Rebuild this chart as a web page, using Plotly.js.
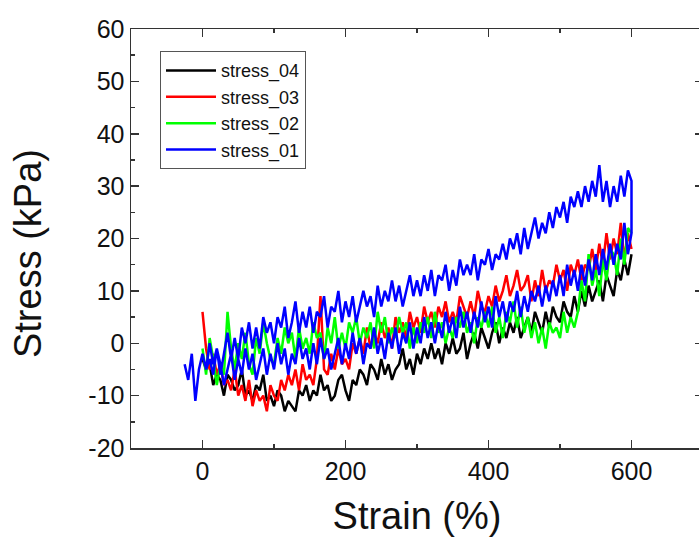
<!DOCTYPE html>
<html>
<head>
<meta charset="utf-8">
<script src="https://cdn.plot.ly/plotly-3.0.1.min.js"></script>
<style>
  html, body { margin: 0; padding: 0; background: #fff; overflow: hidden; }
  #chart { width: 710px; height: 542px; }
</style>
</head>
<body>
<div id="chart"></div>
<script>
// Strain grid (%)
const strain = [0,5,10,15,20,25,30,35,40,45,50,55,60,65,70,75,80,85,90,95,
  100,105,110,115,120,125,130,135,140,145,150,155,160,165,170,175,180,185,190,195,
  200,205,210,215,220,225,230,235,240,245,250,255,260,265,270,275,280,285,290,295,
  300,305,310,315,320,325,330,335,340,345,350,355,360,365,370,375,380,385,390,395,
  400,405,410,415,420,425,430,435,440,445,450,455,460,465,470,475,480,485,490,495,
  500,505,510,515,520,525,530,535,540,545,550,555,560,565,570,575,580,585,590,595,600];
const strainPre01 = [-25,-20,-15,-10,-5];

// Stress (kPa) series
const stress04 = [-3,-5,-4,-8,-6, -7,-10,-6,-7,-9, -8,-5,-10,-9,-11, -8,-9,-6,-11,-10,
  -12,-9,-10,-13,-11, -12,-13,-9,-10,-8, -11,-9,-10,-6,-9, -8,-11,-10,-7,-6,
  -9,-11,-7,-8,-5, -6,-8,-4,-5,-7, -3,-6,-4,-7,-5, -4,-1,-5,-3,-6,
  -2,-4,-1,-3,0, -3,-1,-4,0,-2, 1,-2,-1,2,-3, 0,2,-1,3,1,
  -1,2,4,0,3, 1,4,2,5,1, 3,5,2,6,4, 2,6,3,7,5,
  4,8,6,5,9, 6,10,7,11,8, 10,12,8,13,11, 9,14,12,16,13, 17];

const stress03 = [6,-1,-5,-2,-6, -4,-8,-7,-9,-5, -10,-8,-11,-7,-12, -9,-11,-10,-13,-8,
  -10,-11,-7,-9,-6, -8,-5,-9,-4,-7, -6,-8,-3,9,-5, -6,-2,-5,-1,-4,
  -3,-5,0,-2,1, -2,3,-1,2,0, 4,1,3,-1,5, 2,4,1,6,3,
  5,2,7,4,6, 3,7,5,8,4, 6,4,9,7,5, 8,5,10,7,6,
  9,7,11,8,10, 13,9,11,14,10, 11,13,8,12,9, 14,10,12,11,15,
  12,14,10,15,13, 16,12,15,14,18, 14,19,15,21,16, 20,17,23,16,21, 18];

const stress02 = [-1,-6,1,-3,-8, -4,-6,6,-1,-5, 0,-3,2,-4,-6, 1,-2,4,0,-3,
  -4,1,-2,3,0, 2,-3,3,-1,1, -2,4,1,2,-3, 3,0,5,-1,2,
  -1,4,2,5,0, 3,1,4,-1,6, 2,5,0,3,1, 5,2,4,-1,3,
  0,4,2,5,1, 6,2,4,0,3, 1,5,3,6,2, 4,0,5,3,6,
  3,7,2,5,1, 6,4,8,3,7, 2,5,1,4,0, 3,-1,4,2,3,
  1,6,2,5,3, 6,12,8,17,11, 14,9,16,12,18, 17,13,20,15,22, 21];

// stress_01: loading branch (from -25 % to 600 %)
const stress01Load = [-4,-7,-2,-11,-5,
  -2,-5,0,-4,-1, -6,-2,2,-3,1, -3,3,0,4,-1, 3,-1,5,2,4,
  0,5,3,7,1, 4,8,2,6,3, 7,2,6,5,9, 3,7,6,10,4,
  8,5,9,4,7, 10,7,9,5,11, 7,10,8,12,8, 11,7,10,13,9,
  12,9,13,10,14, 9,13,12,15,10, 14,11,16,13,15, 13,17,12,16,15,
  18,14,17,16,19, 16,20,18,21,17, 22,18,21,24,20, 23,21,25,22,26,
  24,27,23,28,26, 29,26,30,27,31, 28,34,27,31,26, 30,27,32,28,33, 31];
// stress_01: unloading branch (from 600 % back to 0 %)
const stress01Unload = [21,17,23,16,19, 15,19,14,18,13, 17,12,16,11,15, 10,14,11,15,9,
  13,9,12,8,11, 7,11,8,10,6, 9,5,10,6,8, 4,8,5,9,3,
  7,4,8,3,6, 2,6,3,7,1, 5,2,6,1,4, 0,4,1,5,0,
  3,-1,4,0,2, -2,3,-1,2,-3, 1,-2,3,-1,0, -4,1,-2,2,-3,
  0,-4,1,-2,-5, -1,-3,1,-4,0, -5,-1,-3,1,-4, -2,-6,-1,-4,0,
  -5,-2,-6,-1,-4, -7,-2,-5,-1,-6, -3,-7,-2,-5,-8, -4,-1,-6,-3,-5, -2];

const seriesNames = ['stress_04','stress_03','stress_02','stress_01'];
const seriesColors = ['#000000','#ff0000','#00ff00','#0000ff'];

const yTickVals = [-20,-10,0,10,20,30,40,50,60];
const yTickText = ['-20','-10','0','10','20','30','40','50','60'];
const xTickVals = [0,200,400,600];
const xTickText = ['0','200','400','600'];

const strainDown = strain.slice().reverse();
const xs = [strain, strain, strain, strainPre01.concat(strain, strainDown)];
const ys = [stress04, stress03, stress02, stress01Load.concat(stress01Unload)];

const traces = seriesNames.map((n, i) => ({
  type: 'scatter', mode: 'lines', name: n,
  x: xs[i], y: ys[i],
  line: {color: seriesColors[i], width: 2.5}
}));

const axisBase = {
  showgrid: false, zeroline: false,
  showline: true, linecolor: '#333', linewidth: 1.5,
  mirror: 'ticks', ticks: 'inside', ticklen: 8, tickwidth: 1.5, tickcolor: '#333',
  tickfont: {family: 'Liberation Sans, Arial, sans-serif', size: 25, color: '#111'}
};

const layout = {
  width: 710, height: 542,
  margin: {l: 131, r: 7, t: 29, b: 94},
  paper_bgcolor: '#fff', plot_bgcolor: '#fff',
  font: {family: 'Liberation Sans, Arial, sans-serif', color: '#111'},
  showlegend: true,
  xaxis: Object.assign({}, axisBase, {
    range: [-100, 700], tickmode: 'array', tickvals: xTickVals, ticktext: xTickText,
    minor: {tickmode: 'array', tickvals: [-100, 100, 300, 500], ticks: 'inside', ticklen: 4, tickwidth: 1.5, tickcolor: '#333'},
    title: {text: 'Strain (%)', font: {size: 38, color: '#111'}, standoff: 19}
  }),
  yaxis: Object.assign({}, axisBase, {
    range: [-20, 60], tickmode: 'array', tickvals: yTickVals, ticktext: yTickText,
    minor: {tickmode: 'array', tickvals: [-15,-5,5,15,25,35,45,55], ticks: 'inside', ticklen: 4, tickwidth: 1.5, tickcolor: '#333'}
  }),
  annotations: [{
    text: 'Stress (kPa)', textangle: -90, showarrow: false,
    xref: 'paper', yref: 'paper', x: -0.18, y: 0.463,
    xanchor: 'center', yanchor: 'middle',
    font: {size: 38, color: '#111'}
  }],
  legend: {
    x: 0.0507, y: 0.947, xanchor: 'left', yanchor: 'top',
    bgcolor: '#fff', bordercolor: '#555', borderwidth: 1,
    font: {size: 18, color: '#111'}, itemwidth: 50, tracegroupgap: 0
  }
};

Plotly.newPlot('chart', traces, layout, {displayModeBar: false, staticPlot: true});
</script>
</body>
</html>
